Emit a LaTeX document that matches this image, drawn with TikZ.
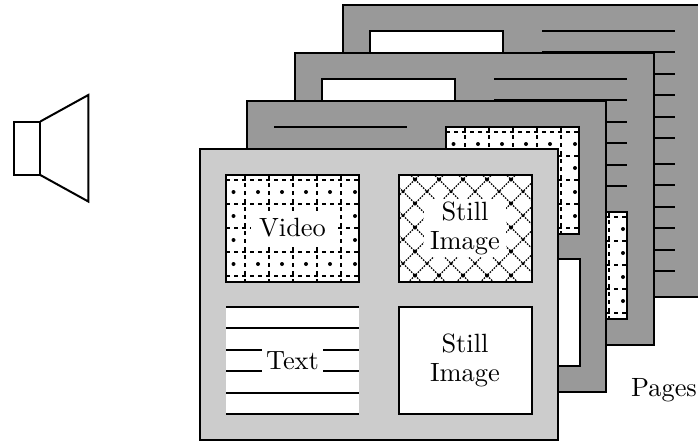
\documentclass[tikz,border=0pt]{standalone}
\begin{document}
\begin{tikzpicture}[x=1pt,y=-1pt,
  outline/.style={draw=black,line width=2pt},
  otherpage/.style={outline,fill=black!40},
  frontpage/.style={outline,fill=black!20},
  whitebox/.style={outline,fill=white},
  textrule/.style={line width=2pt},
  gridline/.style={line width=1.3pt,dash pattern=on 3.5pt off 4.5pt},
  crossline/.style={line width=1.3pt,dash pattern=on 1.6pt off 1.23pt},
  label/.style={scale=2.64,font=\fontsize{10}{11}\selectfont,align=center,fill=white,inner xsep=2.3pt,inner ysep=1.1pt},
  plain label/.style={scale=2.64,font=\fontsize{10}{11}\selectfont,align=center}]
\newcommand{\gridbox}[2]{%
  \begin{scope}[shift={(#1,#2)}]
    \fill[white] (0,0) rectangle (133,107);
    \foreach \v in {5,29,53,77,101}{\draw[gridline] (0,\v) -- (133,\v);}
    \foreach \u in {19,43,67,91,115}{\draw[gridline] (\u,0) -- (\u,107);}
    \foreach \u in {7.5,32,56,80,104,129}{\foreach \v in {17,41,65,89}{\fill (\u,\v) circle (2);}}
    \draw[outline] (0,0) rectangle (133,107);
  \end{scope}}
\newcommand{\rulesbox}[2]{%
  \foreach \v in {0,21,43,64,86,107}{\draw[textrule] (#1,#2+\v) -- (#1+133,#2+\v);}}
\useasboundingbox (0,0) rectangle (698,442);
\begin{scope}
\clip (0,0) rectangle (698,442);
% speaker
\draw[outline,line join=miter] (13.5,121.5) rectangle (40.3,175);
\draw[outline,line join=miter] (40.3,121.5) -- (88.3,95) -- (88.3,201.5) -- (40.3,175);
% page 4
\draw[otherpage] (343,5) rectangle (703,297);
\draw[whitebox] (370,31) rectangle (503,138);
\rulesbox{542}{31}
\rulesbox{542}{164}
% page 3
\draw[otherpage] (295,53) rectangle (654,345);
\draw[whitebox] (322,79) rectangle (455,186);
\rulesbox{494}{79}
\gridbox{494}{212}
% page 2
\draw[otherpage] (247,101) rectangle (606,392);
\draw[textrule] (274,127) -- (407,127);
\gridbox{446}{127}
\draw[whitebox] (446,259) rectangle (579.5,366);
% page 1
\draw[frontpage] (199.5,149) rectangle (558,440);
\gridbox{226}{175}
\node[label,inner xsep=3pt,inner ysep=2.3pt] (video) at (292.5,228) {Video};
\begin{scope}[shift={(398.5,175)}]
  \fill[white] (0,0) rectangle (133,107);
  \begin{scope}
    \clip (0,0) rectangle (133,107);
    \foreach \k in {-4,...,8}{
      \draw[crossline] (16.5+24*\k,4.5) ++(-30,-30) -- ++(180,180);
      \draw[crossline] (16.5+24*\k,4.5) ++(30,-30) -- ++(-180,180);
    }
    \foreach \i in {0,...,4}{\foreach \j in {0,...,4}{\fill (16.5+24*\i,4.5+24*\j) circle (2);}}
    \foreach \i in {-1,...,4}{\foreach \j in {0,...,3}{\fill (28.5+24*\i,16.5+24*\j) circle (1.5);}}
  \end{scope}
  \draw[outline] (0,0) rectangle (133,107);
\end{scope}
\node[label] (stilla) at (465,228) {Still\\Image};
\fill[white] (226,307) rectangle (359,414);
\rulesbox{226}{307}
\node[label,inner xsep=1.7pt] (text) at (292.5,361) {Text};
\draw[whitebox] (398.5,307) rectangle (531.5,414);
\node[plain label] (stillb) at (465,360.5) {Still\\Image};
\node[plain label] (pages) at (664,390) {Pages};
\end{scope}
\end{tikzpicture}
\end{document}
